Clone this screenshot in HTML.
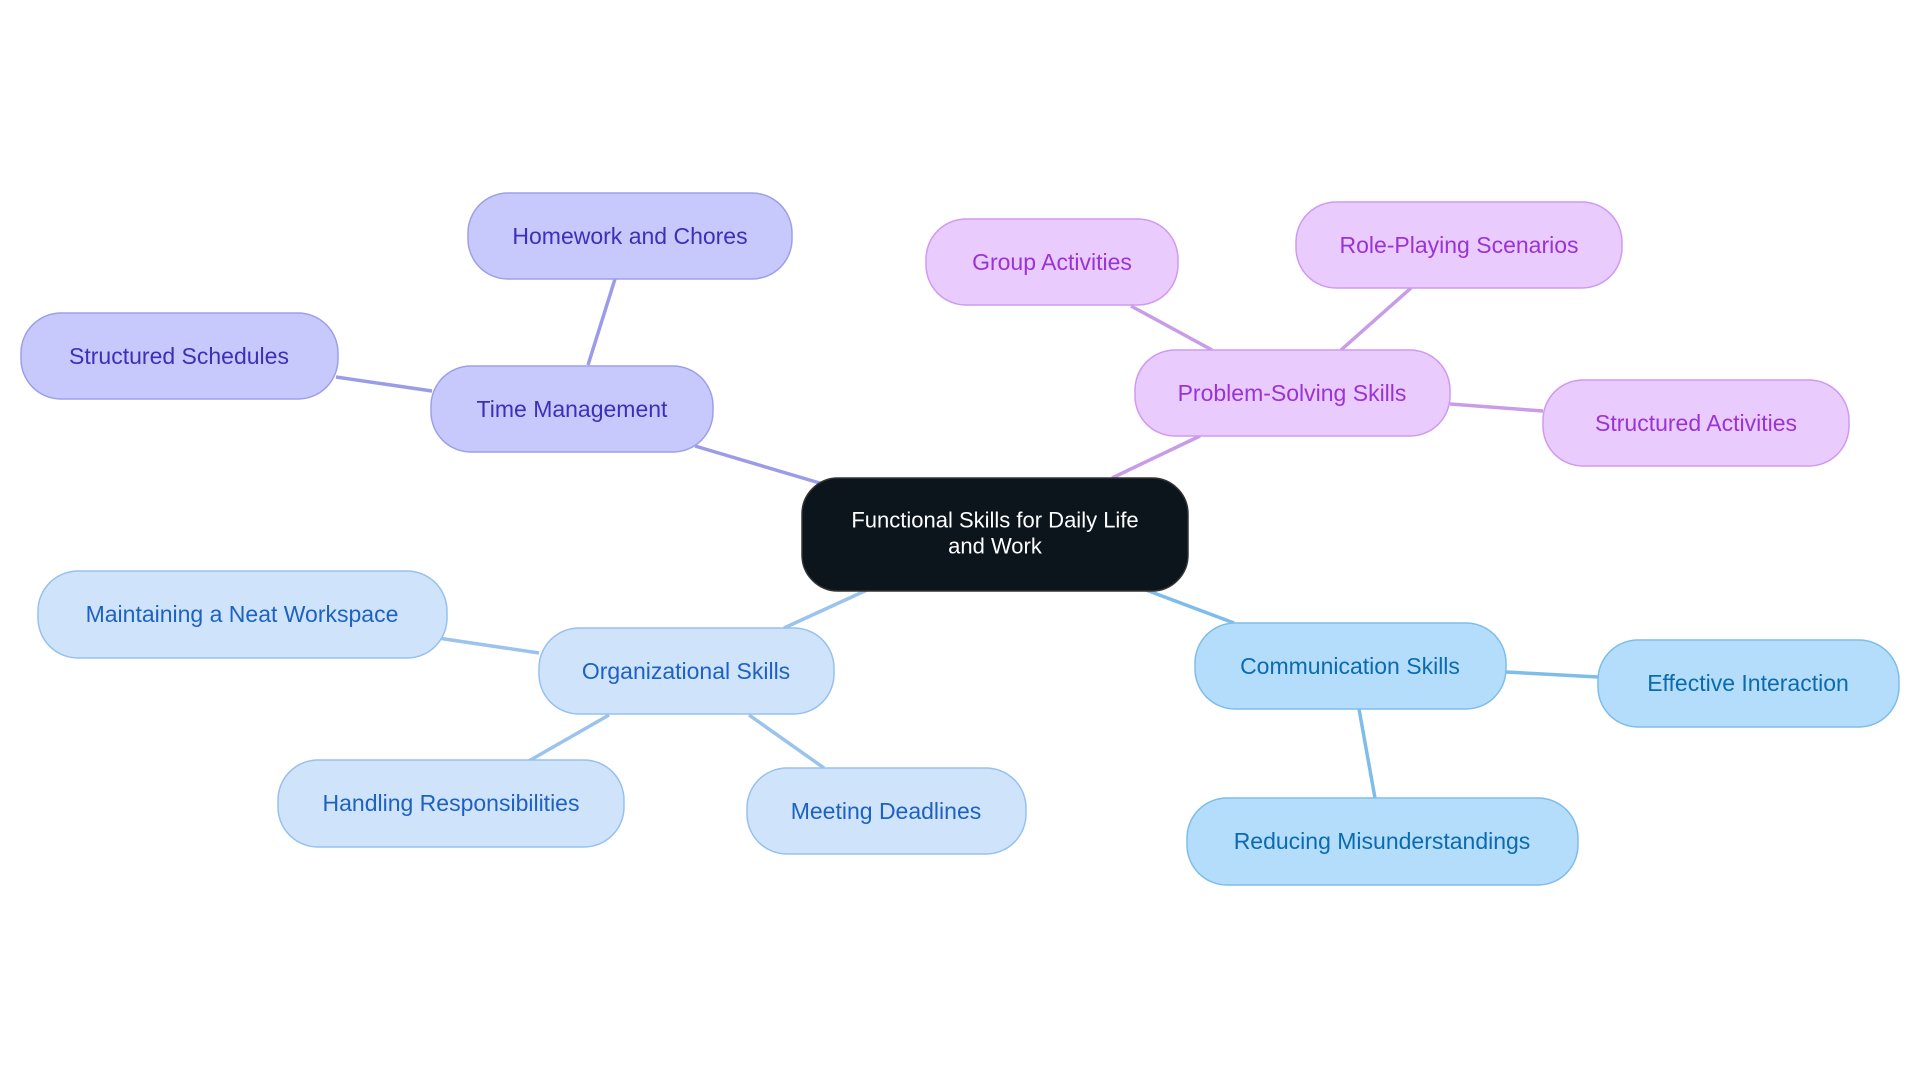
<!DOCTYPE html>
<html><head><meta charset="utf-8"><style>
html,body{margin:0;padding:0;background:#fff;}
svg text{font-family:"Liberation Sans",sans-serif;}
</style></head><body>
<svg width="1920" height="1083" viewBox="0 0 1920 1083" xmlns="http://www.w3.org/2000/svg">
<g stroke-width="3.5" fill="none">
<line x1="695" y1="446" x2="823" y2="484" stroke="#9b9ce8"/>
<line x1="588" y1="365" x2="615" y2="279" stroke="#9b9ce8"/>
<line x1="432" y1="391" x2="336" y2="377" stroke="#9b9ce8"/>
<line x1="1112" y1="478" x2="1200" y2="436" stroke="#c99ce8"/>
<line x1="1212" y1="350" x2="1131" y2="306" stroke="#c99ce8"/>
<line x1="1341" y1="350" x2="1411" y2="288" stroke="#c99ce8"/>
<line x1="1450" y1="404" x2="1543" y2="411" stroke="#c99ce8"/>
<line x1="867" y1="590" x2="784" y2="628" stroke="#9cc3ec"/>
<line x1="539" y1="653" x2="438" y2="638" stroke="#9cc3ec"/>
<line x1="609" y1="715" x2="527" y2="762" stroke="#9cc3ec"/>
<line x1="749" y1="715" x2="824" y2="768" stroke="#9cc3ec"/>
<line x1="1146" y1="590" x2="1234" y2="623" stroke="#7fbde9"/>
<line x1="1506" y1="672" x2="1598" y2="677" stroke="#7fbde9"/>
<line x1="1359" y1="709" x2="1375" y2="798" stroke="#7fbde9"/>
</g>
<g stroke-width="1.5" font-size="23" text-anchor="middle" dominant-baseline="central">
<rect x="802" y="478" width="386" height="113" rx="36" fill="#0c141c" stroke="#333"/>
<text x="995" y="520" fill="#fff" font-size="22">Functional Skills for Daily Life</text>
<text x="995" y="546" fill="#fff" font-size="22">and Work</text>

<g fill="#c7c9fd" stroke="#9d9fe8">
<rect x="468" y="193" width="324" height="86" rx="40"/>
<rect x="21" y="313" width="317" height="86" rx="40"/>
<rect x="431" y="366" width="282" height="86" rx="40"/>
</g>
<g fill="#3b30b8" stroke="none">
<text x="630" y="236">Homework and Chores</text>
<text x="179" y="356">Structured Schedules</text>
<text x="572" y="409">Time Management</text>
</g>

<g fill="#e9cbfd" stroke="#cf9af0">
<rect x="926" y="219" width="252" height="86" rx="40"/>
<rect x="1296" y="202" width="326" height="86" rx="40"/>
<rect x="1135" y="350" width="315" height="86" rx="40"/>
<rect x="1543" y="380" width="306" height="86" rx="40"/>
</g>
<g fill="#9a33d6" stroke="none">
<text x="1052" y="262">Group Activities</text>
<text x="1459" y="245">Role-Playing Scenarios</text>
<text x="1292" y="393">Problem-Solving Skills</text>
<text x="1696" y="423">Structured Activities</text>
</g>

<g fill="#cfe3fb" stroke="#97c1ee">
<rect x="38" y="571" width="409" height="87" rx="40"/>
<rect x="539" y="628" width="295" height="86" rx="40"/>
<rect x="278" y="760" width="346" height="87" rx="40"/>
<rect x="747" y="768" width="279" height="86" rx="40"/>
</g>
<g fill="#1d62c2" stroke="none">
<text x="242" y="614">Maintaining a Neat Workspace</text>
<text x="686" y="671">Organizational Skills</text>
<text x="451" y="803">Handling Responsibilities</text>
<text x="886" y="811">Meeting Deadlines</text>
</g>

<g fill="#b3ddfb" stroke="#7fbde9">
<rect x="1195" y="623" width="311" height="86" rx="40"/>
<rect x="1598" y="640" width="301" height="87" rx="40"/>
<rect x="1187" y="798" width="391" height="87" rx="40"/>
</g>
<g fill="#0b6bae" stroke="none">
<text x="1350" y="666">Communication Skills</text>
<text x="1748" y="683">Effective Interaction</text>
<text x="1382" y="841">Reducing Misunderstandings</text>
</g>
</g>
</svg>
</body></html>
